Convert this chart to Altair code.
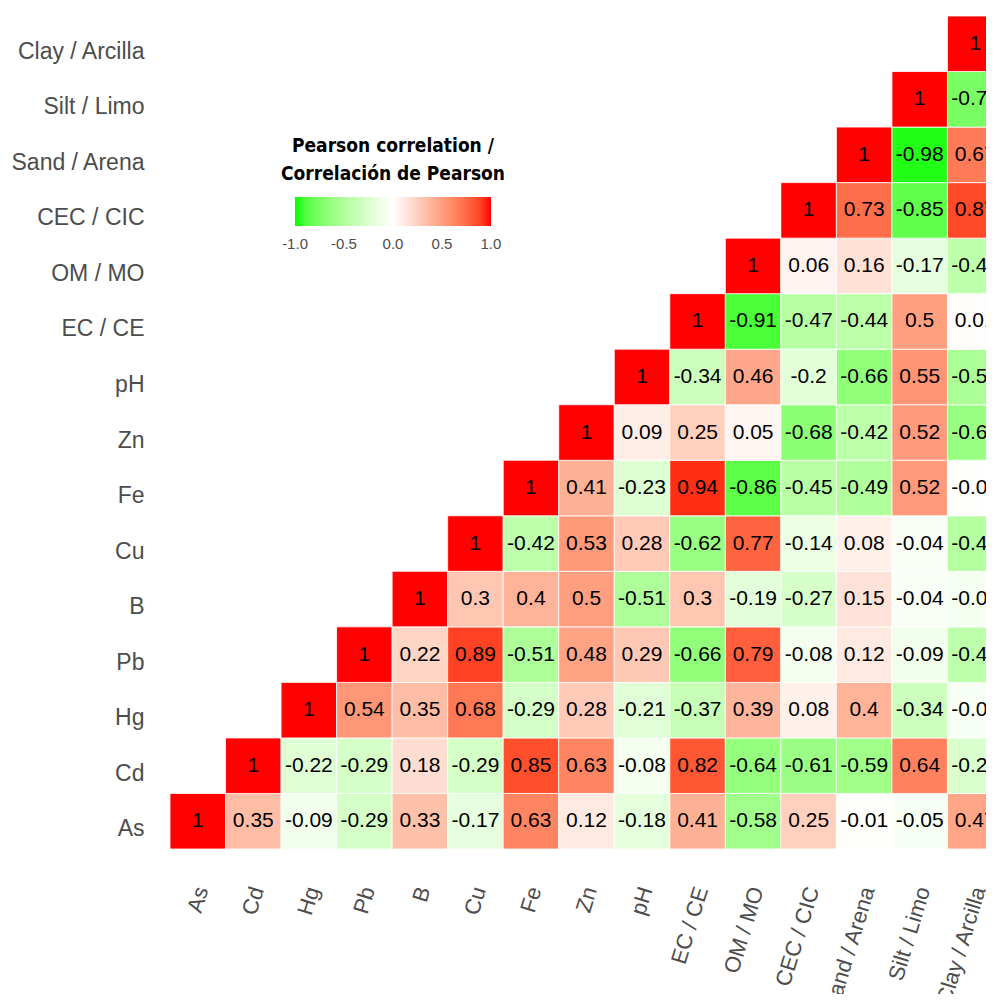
import altair as alt
import pandas as pd

variables = ["As", "Cd", "Hg", "Pb", "B", "Cu", "Fe", "Zn", "pH", "EC / CE",
             "OM / MO", "CEC / CIC", "Sand / Arena", "Silt / Limo", "Clay / Arcilla"]

# correlations of each row variable with itself and the variables to its right
r_As = [1, 0.35, -0.09, -0.29, 0.33, -0.17, 0.63, 0.12, -0.18, 0.41, -0.58, 0.25, -0.01, -0.05, 0.47]
r_Cd = [1, -0.22, -0.29, 0.18, -0.29, 0.85, 0.63, -0.08, 0.82, -0.64, -0.61, -0.59, 0.64, -0.26]
r_Hg = [1, 0.54, 0.35, 0.68, -0.29, 0.28, -0.21, -0.37, 0.39, 0.08, 0.4, -0.34, -0.05]
r_Pb = [1, 0.22, 0.89, -0.51, 0.48, 0.29, -0.66, 0.79, -0.08, 0.12, -0.09, -0.43]
r_B = [1, 0.3, 0.4, 0.5, -0.51, 0.3, -0.19, -0.27, 0.15, -0.04, -0.07]
r_Cu = [1, -0.42, 0.53, 0.28, -0.62, 0.77, -0.14, 0.08, -0.04, -0.48]
r_Fe = [1, 0.41, -0.23, 0.94, -0.86, -0.45, -0.49, 0.52, -0.01]
r_Zn = [1, 0.09, 0.25, 0.05, -0.68, -0.42, 0.52, -0.62]
r_pH = [1, -0.34, 0.46, -0.2, -0.66, 0.55, -0.52]
r_EC = [1, -0.91, -0.47, -0.44, 0.5, 0.01]
r_OM = [1, 0.06, 0.16, -0.17, -0.42]
r_CEC = [1, 0.73, -0.85, 0.87]
r_Sand = [1, -0.98, 0.67]
r_Silt = [1, -0.76]
r_Clay = [1]

rows = [r_As, r_Cd, r_Hg, r_Pb, r_B, r_Cu, r_Fe, r_Zn, r_pH, r_EC, r_OM, r_CEC, r_Sand, r_Silt, r_Clay]

legend_values = [-1, -0.5, 0, 0.5, 1]

records = []
for i, vals in enumerate(rows):
    for k, v in enumerate(vals):
        records.append({"row": variables[i], "col": variables[i + k], "r": v})
df = pd.DataFrame(records)

FONT = "Liberation Sans, Arial, Helvetica, sans-serif"
NARROW = "Liberation Sans Narrow, Arial Narrow, DejaVu Sans Condensed, sans-serif"

x_enc = alt.X("col:N", sort=variables, title=None,
              scale=alt.Scale(paddingInner=0, paddingOuter=0, range=[0, 833]),
              axis=alt.Axis(labelAngle=-73, labelAlign="right", labelBaseline="middle",
                            labelPadding=38, labelOffset=4, ticks=False, domain=False,
                            labelFontSize=22, labelColor="#4D4D4D", labelFont=FONT,
                            labelLimit=400))
y_enc = alt.Y("row:N", sort=variables[::-1], title=None,
              scale=alt.Scale(paddingInner=0, paddingOuter=0),
              axis=alt.Axis(labelPadding=26, labelOffset=8, ticks=False, domain=False,
                            labelFontSize=23, labelColor="#4D4D4D", labelFont=FONT,
                            labelLimit=400))

rects = alt.Chart(df).mark_rect(stroke="white", strokeWidth=0.8).encode(
    x=x_enc, y=y_enc,
    color=alt.Color("r:Q",
                    scale=alt.Scale(domain=[-1.0005, 0, 1.0005],
                                    range=["#00ff00", "#ffffff", "#ff0000"],
                                    interpolate="lab"),
                    legend=alt.Legend(
                        title=["Pearson correlation /", "Correlación de Pearson"],
                        orient="none", legendX=111, legendY=121, direction="horizontal",
                        gradientLength=196, gradientThickness=29,
                        values=legend_values,
                        labelExpr="(datum.value < 0 ? '-' : '') + format(abs(datum.value), '.1f')",
                        labelFontSize=15, labelColor="#4D4D4D", labelFont=FONT,
                        labelAlign="center", labelOffset=11,
                        titleFont=NARROW, titleFontSize=19, titleFontWeight="bold",
                        titleColor="black", titleLineHeight=28, titleAnchor="middle",
                        titleAlign="center", titlePadding=13, titleLimit=500,
                        gradientStrokeWidth=0))
)

texts = alt.Chart(df).transform_calculate(label="'' + datum.r").mark_text(
    fontSize=21, font=FONT, color="black"
).encode(x=alt.X("col:N", sort=variables), y=alt.Y("row:N", sort=variables[::-1]), text="label:N")

chart = (rects + texts).properties(
    width=816, height=833,
    autosize=alt.AutoSizeParams(type="none"),
    padding={"left": 162, "top": 8, "right": 0, "bottom": 145},
).configure_view(stroke=None)

chart.save("out.html", embed_options={"renderer": "svg", "actions": False})
